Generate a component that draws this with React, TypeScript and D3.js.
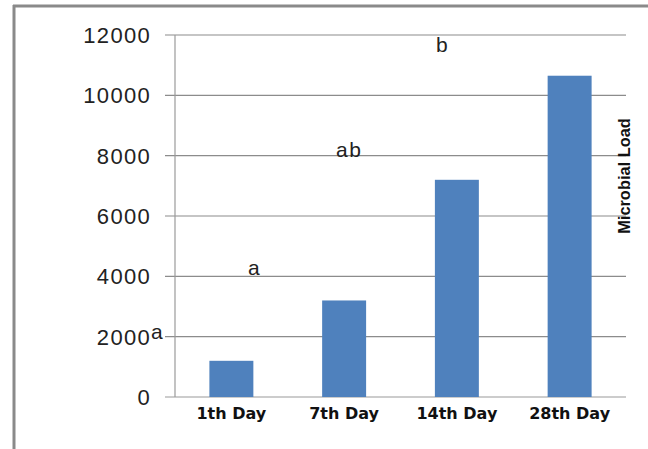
import React from "react";
import * as d3 from "d3";

const categories = ["1th Day", "7th Day", "14th Day", "28th Day"];
const values = [1200, 3200, 7200, 10650];
const yTicks = [0, 2000, 4000, 6000, 8000, 10000, 12000];
const annotations = [
  { text: "a", x: 151, y: 1920 },
  { text: "a", x: 248, y: 4040 },
  { text: "ab", x: 336, y: 7950 },
  { text: "b", x: 436, y: 11430 },
];

export default function App() {
  const W = 648, H = 449;
  const left = 175, right = 626, top = 35, bottom = 397;
  const x = d3.scaleBand<string>().domain(categories).range([left, right]).paddingInner(0.61).paddingOuter(0.305);
  const y = d3.scaleLinear().domain([0, 12000]).range([bottom, top]);
  return (
    <svg width={W} height={H} style={{ position: "absolute", left: 0, top: 0, background: "#fff" }}>
      <rect x={0} y={0} width={W} height={H} fill="#fff" />
      <line x1={13} y1={6} x2={W} y2={6} stroke="#8a8a8a" strokeWidth={3} />
      <line x1={14} y1={5} x2={14} y2={H} stroke="#8a8a8a" strokeWidth={3} />
      {yTicks.map((t) => (
        <g key={t}>
          <line x1={165} x2={right} y1={y(t)} y2={y(t)} stroke={t === 0 ? "#9a9a9a" : "#8c8c8c"} strokeWidth={1.2} />
          <text x={151} y={y(t)} dy="0.36em" textAnchor="end" fontFamily="'Liberation Sans', Arial, sans-serif" fontSize={22} letterSpacing={1.3} fill="#222">{t}</text>
        </g>
      ))}
      <line x1={left} x2={left} y1={top} y2={bottom} stroke="#9a9a9a" strokeWidth={1.2} />
      {categories.map((c, i) => (
        <rect key={c} x={x(c)} y={y(values[i])} width={x.bandwidth()} height={bottom - y(values[i])} fill="#4f81bd" />
      ))}
      {categories.map((c) => (
        <text key={c} x={(x(c) as number) + x.bandwidth() / 2} y={419} textAnchor="middle" fontFamily="'DejaVu Sans', Verdana, sans-serif" fontWeight="bold" fontSize={16} fill="#111">{c}</text>
      ))}
      {annotations.map((a, i) => (
        <text key={i} x={a.x} y={y(a.y)} fontFamily="'Liberation Sans', Arial, sans-serif" fontSize={21} letterSpacing={1.5} fill="#222">{a.text}</text>
      ))}
      <text transform="translate(630,176) rotate(-90)" textAnchor="middle" fontFamily="'Liberation Sans', Arial, sans-serif" fontWeight="bold" fontSize={16.4} fill="#111">Microbial Load</text>
    </svg>
  );
}
